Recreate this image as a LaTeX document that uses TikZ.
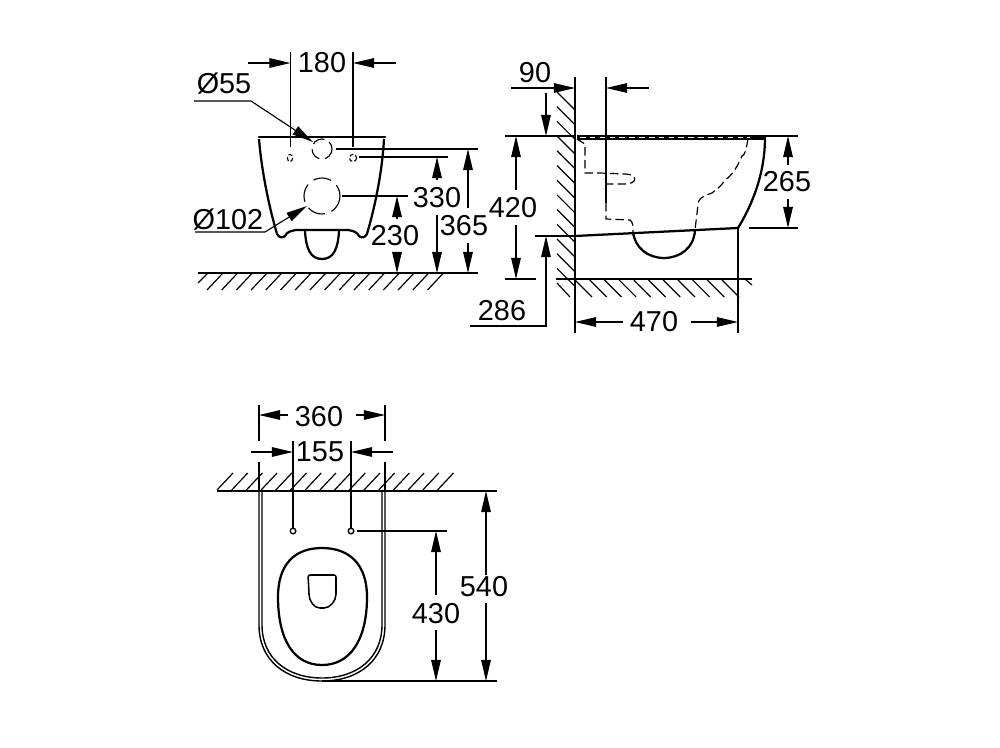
\documentclass[tikz,border=0pt]{standalone}
\usepackage{fontspec}
\setmainfont{Liberation Sans}
\usetikzlibrary{arrows.meta}
\tikzset{
  thin line/.style={line width=0.8pt},
  thick line/.style={line width=1.6pt},
  dim/.style={thin line, -{Triangle[length=15pt, width=6.8pt]}},
  hatch/.style={line width=0.85pt},
  hidden/.style={line width=0.85pt, dash pattern=on 6pt off 3pt},
  label/.style={inner sep=0pt}
}
\begin{document}
\begin{tikzpicture}[x=0.025cm, y=-0.025cm, font=\fontsize{20.5}{24}\selectfont]
  \useasboundingbox (0,0) rectangle (1000,748);

  % front view
  \draw[line width=2pt, line cap=round] (259,137) -- (385,137);
  \draw[thick line] (259,139) .. controls (262,175) and (270,210) .. (277,234)
    .. controls (279,238) and (283,238) .. (285,236)
    .. controls (287,232) and (290,231) .. (296,230) -- (348,230)
    .. controls (354,231) and (357,232) .. (359,236)
    .. controls (361,238) and (365,238) .. (367,234)
    .. controls (374,210) and (382,175) .. (384,139);
  \draw[thick line] (305,231) .. controls (306,248) and (310,259) .. (322,259)
    .. controls (334,259) and (338,248) .. (339,231);
  \draw[thin line, dash pattern=on 3pt off 1.5pt] (290,158) ellipse (2.6 and 3.6);
  \draw[thin line, dash pattern=on 3pt off 1.5pt] (353,158) ellipse (3.6 and 3.6);
  \draw[thin line, dash pattern=on 9pt off 4pt] (322,149) circle (10);
  \draw[thin line, dash pattern=on 13pt off 5pt] (322,196) circle (18);

  \draw[thin line] (290.5,52) -- (290.5,147);
  \draw[thin line] (353,52) -- (353,147);
  \draw[dim] (248,63) -- (290.5,63);
  \draw[dim] (396,63) -- (353,63);
  \node[label] (d180) at (322,63) {180};

  \draw[dim] (194,101) -- (251,101) -- (313,142);
  \node[label] (d55) at (224,84) {Ø55};
  \draw[dim] (195,232) -- (265,232) -- (307,206);
  \node[label] (d102) at (228,220) {Ø102};

  \draw[thin line] (336,149) -- (478,149);
  \draw[thin line] (359,157) -- (448,157);
  \draw[thin line] (342,196) -- (408,196);
  \draw[thin line] (447,273) -- (478,273);
  \draw[thick line] (198,273) -- (447,273);
  \draw[hatch] (198,283) -- (208,273);
  \foreach \x in {207,221.7,...,432} {
    \draw[hatch] (\x,290) -- (\x+16,273);
  }

  \draw[dim] (397,219) -- (397,196);
  \draw[dim] (397,252) -- (397,273);
  \node[label] (d230) at (395,236) {230};
  \draw[dim] (437,180) -- (437,157);
  \draw[dim] (437,215) -- (437,273);
  \node[label] (d330) at (437,198) {330};
  \draw[dim] (468,208) -- (468,149);
  \draw[dim] (468,243) -- (468,273);
  \node[label] (d365) at (464,226) {365};

  % side view
  \foreach \y in {92,106.7,...,270} {
    \draw[hatch] (557,\y) -- (575,\y+18);
  }
  \draw[hatch] (557,283) -- (570,297);
  \foreach \x in {575,589.7,...,735} {
    \draw[hatch] (\x,280) -- (\x+17,297);
  }
  \draw[hatch] (746,280) -- (752,285);
  \draw[thick line] (575,92) -- (575,279) -- (752,279);
  \draw[thin line] (575,77) -- (575,92);
  \draw[line width=3.2pt] (577,137.5) -- (765,137.5);
  \draw[white, line width=0.6pt, dash pattern=on 4pt off 3pt] (580,137.6) -- (750,137.6);
  \draw[thick line] (765,137) .. controls (765,170) and (755,200) .. (738,228) -- (575,236);
  \draw[thick line] (633,232) .. controls (635,248) and (648,258) .. (664,258)
    .. controls (680,258) and (694,248) .. (695,230);
  \draw[hidden] (577,139) -- (585,144) -- (585,173) -- (600,173) -- (625,174)
    .. controls (638,174) and (638,184) .. (625,184) -- (606,184);
  \draw[hidden] (606,203) -- (606,219) -- (630,220) .. controls (633,222) and (633,226) .. (633,232);
  \draw[hidden] (748,139) .. controls (746,150) and (745,155) .. (742,156)
    .. controls (738,165) and (733,175) .. (725,180)
    .. controls (720,188) and (715,190) .. (712,193)
    .. controls (700,197) and (698,200) .. (698,205) -- (695,230);

  \draw[thin line] (606,77) -- (606,203);
  \draw[dim] (511,88) -- (575,88);
  \draw[dim] (649,88) -- (606,88);
  \node[label] (d90) at (535,73) {90};

  \draw[thin line] (505,136) -- (575,136);
  \draw[thin line] (535,236) -- (575,236);
  \draw[thin line] (505,279) -- (536,279);
  \draw[thin line] (556,279) -- (575,279);
  \draw[dim] (546,93) -- (546,136);
  \draw[dim] (470,326) -- (546,326) -- (546,236);
  \node[label] (d286) at (502,311) {286};

  \draw[dim] (516,190) -- (516,136);
  \draw[dim] (516,225) -- (516,279);
  \node[label] (d420) at (513,208) {420};

  \draw[thin line] (575,279) -- (575,333);
  \draw[thin line] (738,228) -- (738,333);
  \draw[dim] (623,322) -- (575,322);
  \draw[dim] (691,322) -- (738,322);
  \node[label] (d470) at (654,322) {470};

  \draw[thin line] (765,136) -- (798,136);
  \draw[thin line] (749,228) -- (798,228);
  \draw[dim] (788,165) -- (788,136);
  \draw[dim] (788,199) -- (788,228);
  \node[label] (d265) at (787,182) {265};

  % top view
  \foreach \x in {217,231.7,...,440} {
    \draw[hatch] (\x,490) -- (\x+16,473);
  }
  \draw[thick line] (217,491) -- (456,491);
  \draw[thin line] (456,491) -- (497,491);
  \draw[line width=1pt] (259,491) -- (259,625) .. controls (259,660) and (285,681) .. (322,681)
    .. controls (359,681) and (385,660) .. (385,625) -- (385,491);
  \draw[line width=1pt] (262,491) -- (262,625) .. controls (262,658) and (287,678) .. (322,678)
    .. controls (357,678) and (382,658) .. (382,625) -- (382,491);
  \draw[thick line] (322,548) .. controls (350,548) and (367,565) .. (367,597)
    .. controls (367,640) and (350,665) .. (322,665)
    .. controls (294,665) and (278,640) .. (278,597)
    .. controls (278,565) and (294,548) .. (322,548) -- cycle;
  \draw[line width=1.1pt, rounded corners=1.5pt] (308,575) -- (336,575) -- (336,592)
    .. controls (336,601) and (330,608) .. (322,608)
    .. controls (314,608) and (309,601) .. (309,592) -- cycle;
  \draw[line width=1pt] (293,531) circle (2.8);
  \draw[line width=1pt] (351,531) circle (2.8);

  \draw[thin line] (259,405) -- (259,441);
  \draw[thin line] (385,405) -- (385,441);
  \draw[thin line] (259,462) -- (259,491);
  \draw[thin line] (385,462) -- (385,491);
  \draw[dim] (288,415) -- (259,415);
  \draw[dim] (356,415) -- (385,415);
  \node[label] (d360) at (319,417) {360};

  \draw[thin line] (293,441) -- (293,528);
  \draw[thin line] (351,441) -- (351,528);
  \draw[dim] (251,452) -- (293,452);
  \draw[dim] (393,452) -- (351,452);
  \node[label] (d155) at (320,452) {155};

  \draw[thin line] (357,531) -- (447,531);
  \draw[thin line] (322,681) -- (497,681);
  \draw[dim] (436,595) -- (436,531);
  \draw[dim] (436,630) -- (436,681);
  \node[label] (d430) at (436,614) {430};
  \draw[dim] (486,575) -- (486,491);
  \draw[dim] (486,603) -- (486,681);
  \node[label] (d540) at (484,587) {540};
\end{tikzpicture}
\end{document}
